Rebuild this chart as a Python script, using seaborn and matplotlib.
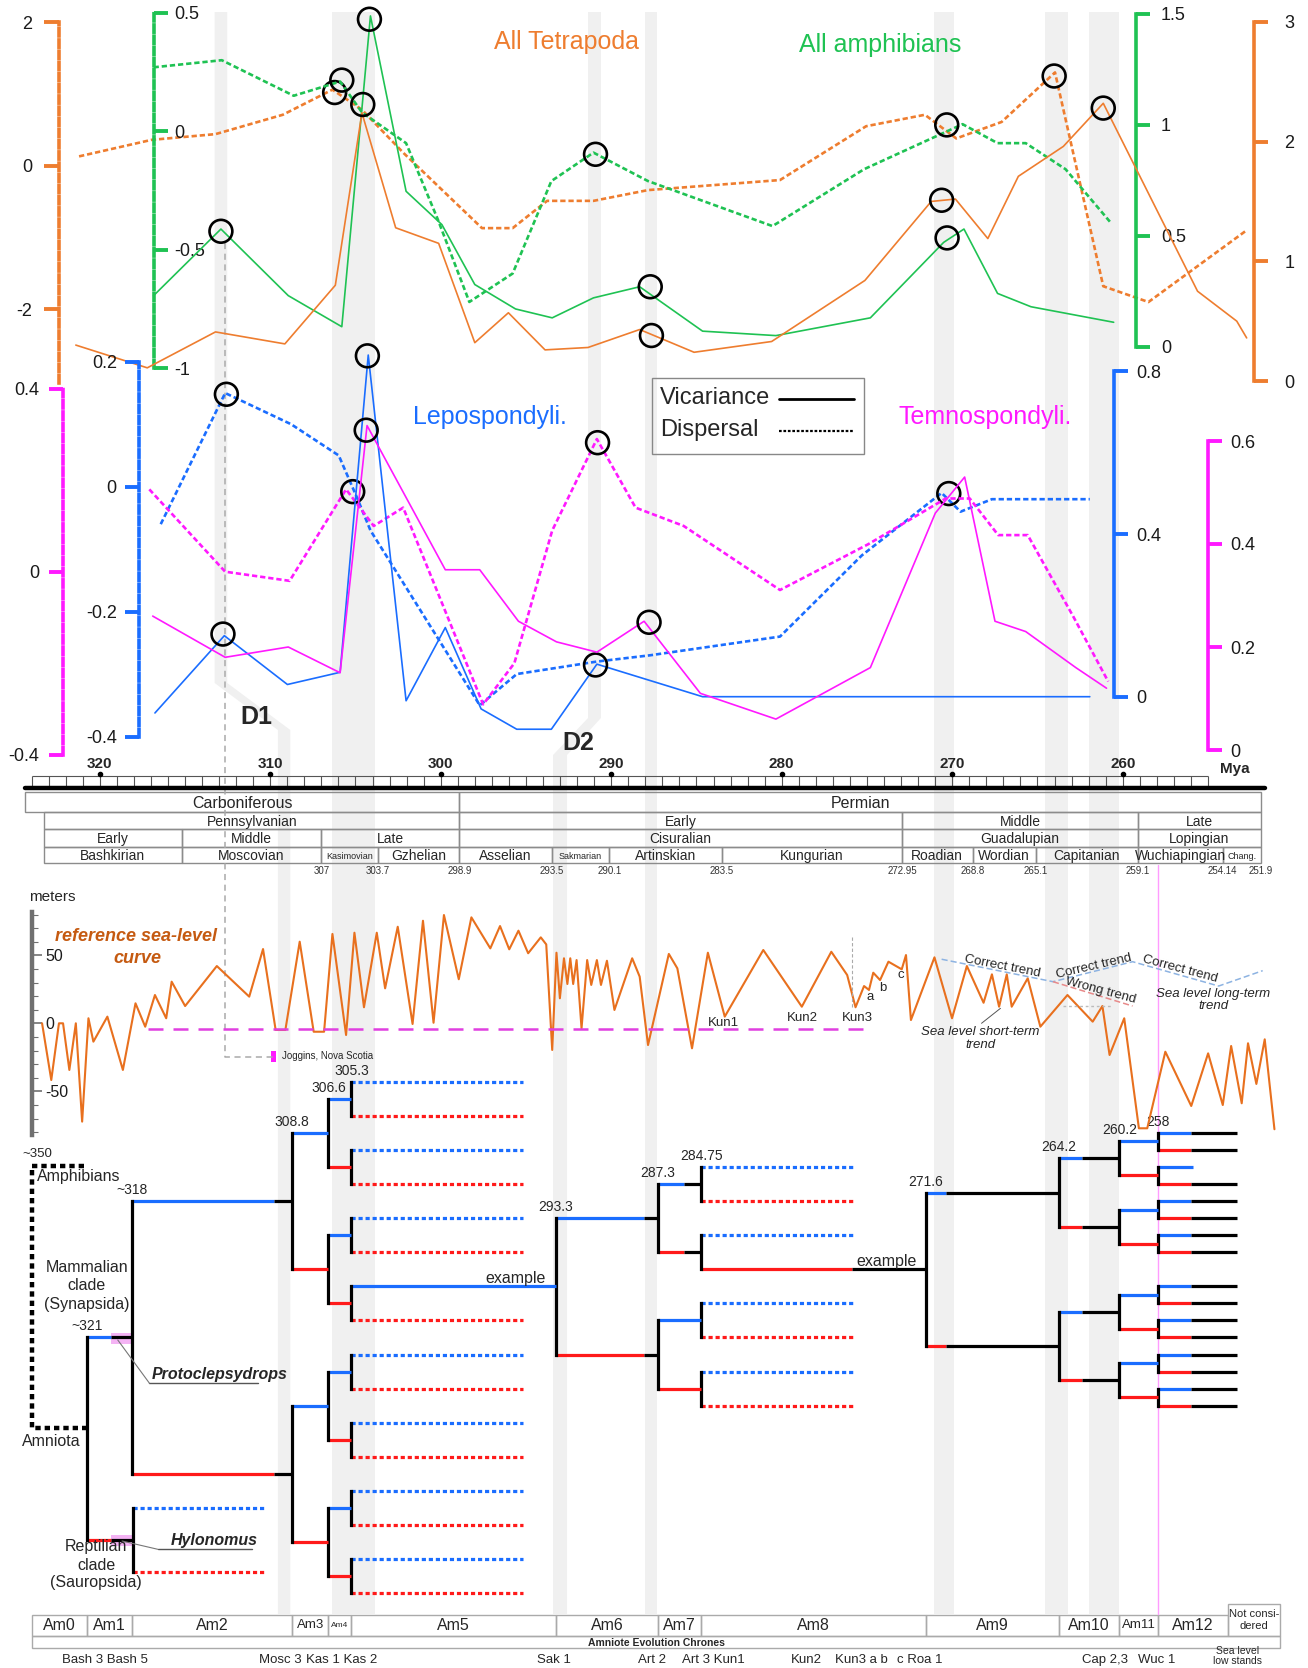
import numpy as np
import pandas as pd
import seaborn as sns
import matplotlib.pyplot as plt
from matplotlib.lines import Line2D
from matplotlib.patches import Polygon, Rectangle

# time axis calibration: pixel column <-> Mya
W, H = 1308, 1668
X0_PX, PX_PER_MY, X0_MY = 99.7, 17.05, 320.0
XL = X0_MY + X0_PX / PX_PER_MY
XR = X0_MY - (W - X0_PX) / PX_PER_MY

# ---------------- data ----------------
# All Tetrapoda (vicariance -> right orange axis, dispersal -> left orange axis)
tet_vic_mya = [321.40, 317.21, 313.21, 309.14, 306.18, 304.62, 302.64, 300.12, 298.0, 296.03, 293.88,
               291.36, 288.33, 285.14, 280.59, 275.12, 271.23, 269.81, 267.91, 266.12, 263.48, 261.14,
               255.61, 253.31, 252.73]
tet_vic = [0.30, 0.11, 0.41, 0.31, 0.80, 2.24, 1.28, 1.15, 0.32, 0.57, 0.26, 0.28, 0.43, 0.24, 0.33,
           0.84, 1.50, 1.52, 1.19, 1.71, 1.96, 2.32, 0.75, 0.50, 0.36]
tet_disp_mya = [321.21, 316.96, 313.21, 309.26, 306.35, 304.62, 302.15, 297.58, 295.78, 293.76, 291.04,
                287.84, 280.10, 275.05, 271.60, 269.76, 267.10, 263.97, 261.14, 258.49, 252.73]
tet_disp = [0.13, 0.36, 0.44, 0.71, 1.06, 0.78, 0.17, -0.87, -0.87, -0.49, -0.49, -0.34, -0.20, 0.55,
            0.71, 0.38, 0.61, 1.30, -1.68, -1.90, -0.90]

# All amphibians
amph_vic_mya = [316.84, 312.89, 308.94, 305.80, 304.12, 302.03, 299.93, 298.0, 295.61, 293.46, 291.04,
                288.33, 284.64, 280.34, 274.80, 270.50, 269.31, 267.34, 265.38, 260.53]
amph_vic = [0.23, 0.53, 0.23, 0.09, 1.49, 0.70, 0.55, 0.28, 0.17, 0.13, 0.22, 0.27, 0.07, 0.05, 0.13,
            0.47, 0.53, 0.24, 0.18, 0.11]
amph_disp_mya = [316.84, 312.84, 308.62, 305.90, 304.62, 302.03, 300.18, 298.32, 295.78, 293.51, 291.04,
                 287.84, 280.54, 275.17, 269.39, 267.34, 265.69, 263.35, 260.65]
amph_disp = [0.27, 0.30, 0.15, 0.21, 0.08, -0.05, -0.37, -0.72, -0.60, -0.21, -0.09, -0.21, -0.40,
             -0.16, 0.03, -0.05, -0.05, -0.16, -0.39]

# Lepospondyli
lep_vic_mya = [316.76, 312.69, 308.99, 305.90, 304.25, 302.03, 299.73, 297.63, 295.54, 293.51, 290.84,
               284.64, 261.93]
lep_vic = [-0.04, 0.15, 0.03, 0.06, 0.84, -0.01, 0.17, -0.03, -0.08, -0.08, 0.08, 0.0, 0.0]
lep_disp_mya = [316.42, 312.64, 308.77, 305.98, 304.87, 304.12, 297.71, 295.54, 290.84, 287.73, 280.10,
                275.30, 270.62, 269.51, 267.67, 261.93]
lep_disp = [-0.06, 0.15, 0.10, 0.05, -0.02, -0.07, -0.35, -0.30, -0.28, -0.27, -0.24, -0.11, -0.01,
            -0.04, -0.02, -0.02]

# Temnospondyli
tem_vic_mya = [316.89, 312.64, 308.94, 305.90, 304.32, 299.73, 297.71, 295.44, 293.21, 290.84, 288.07,
               284.77, 280.34, 274.80, 270.99, 269.27, 267.49, 265.69, 262.75, 260.95]
tem_vic = [0.26, 0.18, 0.20, 0.15, 0.63, 0.35, 0.35, 0.25, 0.21, 0.19, 0.25, 0.11, 0.06, 0.16, 0.46,
           0.53, 0.25, 0.23, 0.16, 0.12]
tem_disp_mya = [317.09, 312.64, 308.86, 305.55, 303.93, 302.20, 297.51, 295.68, 293.46, 290.84, 288.57,
                285.75, 280.10, 274.93, 270.38, 268.97, 267.30, 265.57, 262.87, 260.85]
tem_disp = [0.18, 0.00, -0.02, 0.18, 0.10, 0.14, -0.29, -0.20, 0.09, 0.29, 0.14, 0.10, -0.04, 0.06,
            0.16, 0.16, 0.08, 0.08, -0.10, -0.24]

# highlighted points (Mya, value on that series' axis)
circ_tet_vic = ([304.57, 287.64, 270.62, 261.14], [2.31, 0.38, 1.51, 2.28])
circ_tet_disp = ([306.22, 264.02], [1.02, 1.25])
circ_amph_vic = ([304.18, 312.89, 287.71, 270.30], [1.475, 0.52, 0.27, 0.49])
circ_amph_disp = ([305.8, 290.92, 270.32], [0.216, -0.097, 0.027])
circ_lep_vic = ([304.3, 312.77, 290.92], [0.838, 0.154, 0.078])
circ_lep_disp = ([312.57, 270.2], [0.148, -0.011])
circ_tem_vic = ([304.37, 287.78], [0.621, 0.248])
circ_tem_disp = ([305.16, 290.8], [0.175, 0.282])

# reference sea-level curve (Mya, metres)
sea_mya = [323.38, 322.84, 322.39, 322.15, 321.78, 321.40, 321.03, 320.66, 320.37, 319.55, 318.64, 317.90,
           317.33, 316.76, 316.10, 315.78, 314.99, 313.13, 311.23, 310.42, 309.68, 309.11, 308.27, 307.45,
           306.84, 306.35, 305.55, 305.06, 304.50, 303.75, 303.26, 302.52, 301.65, 301.04, 300.42, 299.81,
           298.94, 298.20, 297.09, 296.52, 295.98, 295.44, 294.87, 294.13, 293.81, 293.46, 293.21, 293.01,
           292.77, 292.57, 292.40, 292.23, 292.03, 291.74, 291.41, 291.17, 290.84, 290.60, 290.25, 289.81,
           288.77, 288.33, 287.84, 286.62, 286.12, 285.26, 284.33, 283.34, 281.08, 278.82, 277.09, 276.16,
           275.67, 275.17, 274.88, 274.63, 274.23, 273.74, 272.96, 272.71, 272.42, 271.04, 270.01, 269.14,
           268.16, 267.67, 267.25, 266.80, 266.51, 265.57, 264.83, 263.24, 261.76, 261.19, 260.77, 259.91,
           259.05, 258.56, 257.50, 255.98, 254.99, 254.13, 253.64, 253.02, 252.65, 252.16, 251.67, 251.10]
sea_m = [0, -41.7, 0, 0, -34.3, 0, -72.3, 3.7, -13.5, 4.9, -34.3, 14.7,
         -2.5, 20.8, 3.7, 30.6, 12.7, 42.1, 19.6, 54.6, -4.9, -4.9, 60.0, -6.2,
         -6.2, 65.7, -8.6, 66.6, 11.8, 66.6, 25.7, 71.0, -0.5, 75.4, 0.4, 79.6,
         32.4, 77.9, 55.1, 71.5, 54.4, 68.1, 51.5, 63.2, 58.0, -19.6, 51.9, 18.4,
         47.8, 28.9, 47.8, 28.9, 46.5, -3.7, 46.5, 28.2, 46.5, 28.2, 46.0, 9.8,
         47.8, 34.3, -16.0, 51.0, 40.4, -18.4, 51.9, 4.9, 53.9, 12.2, 52.6, 35.5,
         11.8, 27.4, 24.5, 37.2, 31.8, 45.3, 39.7, 50.2, 2.4, 48.5, 3.7, 42.1,
         15.1, 36.0, 12.2, 36.0, 12.2, 33.1, -2.5, 20.8, 1.2, 12.7, -23.3, 3.7,
         -77.2, -77.2, -20.9, -60.8, -22.1, -60.1, -16.7, -58.8, -14.7, -44.6, -11.8, -77.9]
joggins_mya = [317.16, 275.17]
joggins_m = [-4.2, -4.2]
trend_mya = [270.62, 264.09, 259.42, 254.37, 251.79]
trend_m = [47.1, 30.6, 45.3, 27.4, 38.7]
wrong_mya = [264.09, 259.42]
wrong_m = [30.6, 12.7]

# geologic time scale
period_names = ['Carboniferous', 'Permian']
period_bounds = [324.37, 298.9, 251.9]
row2_names = ['Pennsylvanian', 'Early', 'Middle', 'Late']
row2_bounds = [323.26, 298.9, 272.95, 259.1, 251.9]
row3_names = ['Early', 'Middle', 'Late', 'Cisuralian', 'Guadalupian', 'Lopingian']
row3_bounds = [323.26, 315.2, 307.0, 298.9, 272.95, 259.1, 251.9]
stage_names = ['Bashkirian', 'Moscovian', 'Kasimovian', 'Gzhelian', 'Asselian', 'Sakmarian', 'Artinskian',
               'Kungurian', 'Roadian', 'Wordian', 'Capitanian', 'Wuchiapingian', 'Chang.']
stage_bounds = [323.26, 315.2, 307.0, 303.7, 298.9, 293.5, 290.1, 283.5, 272.95, 268.8, 265.1, 259.1,
                254.14, 251.9]
boundary_labels = ['307', '303.7', '298.9', '293.5', '290.1', '283.5', '272.95', '268.8', '265.1', '259.1',
                   '254.14', '251.9']
major_ticks = [320, 310, 300, 290, 280, 270, 260]

# amniote evolution chrones
chrone_names = ['Am0', 'Am1', 'Am2', 'Am3', 'Am4', 'Am5', 'Am6', 'Am7', 'Am8', 'Am9', 'Am10', 'Am11', 'Am12']
chrone_bounds = [323.99, 320.74, 318.12, 308.7, 306.59, 305.24, 293.22, 287.28, 284.72, 271.54, 263.73,
                 260.2, 257.94, 253.81]
lowstand_names = ['Bash 3 Bash 5', 'Mosc 3', 'Kas 1 Kas 2', 'Sak 1', 'Art 2', 'Art 3 Kun1', 'Kun2',
                  'Kun3 a b', 'c Roa 1', 'Cap 2,3', 'Wuc 1']
lowstand_mya = [319.67, 309.38, 305.80, 293.38, 287.61, 283.98, 278.55, 275.30, 271.92, 261.02, 257.99]

# grey time bands (straight ones, then the two bent ones D1 / D2)
band_mya = [(306.35, 303.88), (288.0, 287.3), (271.04, 269.88), (264.54, 263.19), (261.95, 260.23)]
d1_upper, d1_lower = (313.26, 312.52), (309.55, 308.82)
d2_upper, d2_lower = (291.36, 290.60), (293.41, 292.59)

ORANGE = '#ee7d2f'
GREEN = '#1fc253'
BLUE = '#1a6dff'
PINK = '#ff19ff'
TBLUE = '#1a6dff'
TRED = '#ff1a1a'
DASH = (0, (2.0, 1.1))

sns.set_theme(style="white")
plt.rcParams['font.family'] = ['Liberation Sans Narrow', 'Liberation Sans', 'DejaVu Sans']
plt.rcParams['axes.unicode_minus'] = False

fig = plt.figure(figsize=(W / 100, H / 100), dpi=100)


def px2mya(x):
    return X0_MY - (x - X0_PX) / PX_PER_MY


def canvas(xlim):
    a = fig.add_axes([0, 0, 1, 1])
    a.set_xlim(*xlim)
    a.set_ylim(H, 0)
    a.axis('off')
    return a


cv = canvas((XL, XR))   # x in Mya, y in pixel rows
pc = canvas((0, W))     # plain pixel layout

# grey bands
for a, b in band_mya:
    cv.add_patch(Polygon([(a, 12), (b, 12), (b, 1614), (a, 1614)], color='#f0f0f0', lw=0, zorder=0))
for up, lo, r0, r1 in [(d1_upper, d1_lower, 683, 730), (d2_upper, d2_lower, 718, 755)]:
    cv.add_patch(Polygon([(up[0], 12), (up[1], 12), (up[1], r0), (lo[1], r1), (lo[1], 1614),
                          (lo[0], 1614), (lo[0], r1), (up[0], r0)], color='#f0f0f0', lw=0, zorder=0))

# ---------------- value axes ----------------
all_axes = []


def value_axes(p0, k):
    a = fig.add_axes([0, 0, 1, 1])
    a.patch.set_visible(False)
    for s in a.spines.values():
        s.set_visible(False)
    a.set_xticks([])
    a.tick_params(left=False, right=False, labelleft=False, labelright=False, bottom=False, labelbottom=False)
    all_axes.append((a, (p0 - H) / k, p0 / k))
    return a


def show_scale(a, side, xpx, ticks, color, ls, tlen=10, pad=5, lo=None):
    sp = a.spines[side]
    sp.set_visible(True)
    sp.set_position(('axes', xpx / W))
    sp.set_bounds(min(ticks) if lo is None else lo, max(ticks))
    sp.set_color(color)
    sp.set_linewidth(2.6)
    sp.set_linestyle(ls)
    a.set_yticks(ticks)
    a.set_yticklabels([f'{t:g}' for t in ticks])
    on = side == 'left'
    a.tick_params(axis='y', left=on, labelleft=on, right=not on, labelright=not on, direction='out',
                  length=tlen, width=2.8, color=color, labelsize=13, pad=pad, labelcolor='#1a1a1a')


def series(a, mya, vals, color, dashed, circles):
    df = pd.DataFrame({'mya': mya, 'val': vals})
    sns.lineplot(data=df, x='mya', y='val', ax=a, color=color, estimator=None, sort=False,
                 lw=1.9 if dashed else 1.2, ls=DASH if dashed else '-')
    a.scatter(circles[0], circles[1], s=270, facecolors='none', edgecolors='black', linewidths=1.9,
              zorder=5, clip_on=False)
    a.set_xlabel('')
    a.set_ylabel('')


ax_tet_d = value_axes(165.7, 71.75)
ax_amph_d = value_axes(131.3, 237.0)
ax_amph_v = value_axes(346.7, 222.0)
ax_tet_v = value_axes(381.0, 119.7)
ax_lep_d = value_axes(486.7, 624.5)
ax_tem_d = value_axes(571.7, 457.5)
ax_lep_v = value_axes(696.7, 406.75)
ax_tem_v = value_axes(750.0, 515.0)
ax_sea = value_axes(1023.3, 1.36)

series(ax_tet_v, tet_vic_mya, tet_vic, ORANGE, False, circ_tet_vic)
series(ax_tet_d, tet_disp_mya, tet_disp, ORANGE, True, circ_tet_disp)
series(ax_amph_v, amph_vic_mya, amph_vic, GREEN, False, circ_amph_vic)
series(ax_amph_d, amph_disp_mya, amph_disp, GREEN, True, circ_amph_disp)
series(ax_lep_v, lep_vic_mya, lep_vic, BLUE, False, circ_lep_vic)
series(ax_lep_d, lep_disp_mya, lep_disp, BLUE, True, circ_lep_disp)
series(ax_tem_v, tem_vic_mya, tem_vic, PINK, False, circ_tem_vic)
series(ax_tem_d, tem_disp_mya, tem_disp, PINK, True, circ_tem_disp)

show_scale(ax_tet_d, 'left', 59, [-2, 0, 2], ORANGE, DASH, tlen=11, pad=8, lo=-3.03)
show_scale(ax_amph_d, 'right', 153.6, [-1, -0.5, 0, 0.5], GREEN, DASH)
show_scale(ax_amph_v, 'right', 1136, [0, 0.5, 1, 1.5], GREEN, '-', pad=8)
show_scale(ax_tet_v, 'right', 1254, [0, 1, 2, 3], ORANGE, '-', pad=12)
show_scale(ax_lep_d, 'left', 139, [-0.4, -0.2, 0, 0.2], BLUE, DASH, pad=6)
show_scale(ax_tem_d, 'left', 63, [-0.4, 0, 0.4], PINK, DASH, pad=7)
show_scale(ax_lep_v, 'right', 1113.7, [0, 0.4, 0.8], BLUE, '-', pad=6)
show_scale(ax_tem_v, 'right', 1208, [0, 0.2, 0.4, 0.6], PINK, '-', pad=6)

# sea-level curve
sea_df = pd.DataFrame({'mya': sea_mya, 'm': sea_m})
sns.lineplot(data=sea_df, x='mya', y='m', ax=ax_sea, color='#e8701e', lw=1.5, estimator=None, sort=False,
             solid_joinstyle='round')
ax_sea.set_xlabel('')
ax_sea.set_ylabel('')
ax_sea.plot(joggins_mya, joggins_m, color='#e03fe0', lw=1.8, ls=(0, (6, 4)))
ax_sea.plot(trend_mya, trend_m, color='#8db3e2', lw=1.1, ls=(0, (4, 2)))
ax_sea.plot(wrong_mya, wrong_m, color='#e88a8a', lw=1.1, ls=(0, (4, 2)))
ax_sea.plot([263.49, 260.65], [12.7, 12.7], color='#bbbbbb', lw=1.0, ls=(0, (2, 2)))
ax_sea.plot([275.86, 275.86], [63.5, 12.2], color='#aaaaaa', lw=0.8, ls=(0, (3, 2)))
sp = ax_sea.spines['right']
sp.set_visible(True)
sp.set_position(('axes', 31.6 / W))
sp.set_bounds(-82, 82)
sp.set_color('#707070')
sp.set_linewidth(3.2)
ax_sea.set_yticks([-50, 0, 50])
ax_sea.set_yticklabels(['-50', '0', '50'])
ax_sea.set_yticks(np.arange(-80, 81, 10), minor=True)
ax_sea.tick_params(axis='y', which='both', right=True, labelright=True, direction='out', color='#707070',
                   labelsize=11.5, pad=3, labelcolor='#1a1a1a')
ax_sea.tick_params(axis='y', which='major', length=7, width=1.2)
ax_sea.tick_params(axis='y', which='minor', length=4, width=0.8)
for lbl, mya, m in [('Kun1', 283.42, 0.4), ('Kun2', 278.81, 3.7), ('Kun3', 275.54, 3.7)]:
    ax_sea.text(mya, m, lbl, ha='center', va='center', fontsize=9.5)
for lbl, mya, m in [('a', 274.80, 19.1), ('b', 274.07, 25.7), ('c', 273.0, 35.5)]:
    ax_sea.text(mya, m, lbl, ha='center', va='center', fontsize=9.5)
for mya, m, rot in [(267.05, 42.1, -11), (261.68, 42.1, 13), (256.66, 39.7, -15)]:
    ax_sea.text(mya, m, 'Correct trend', ha='center', va='center', fontsize=9.5, rotation=rot,
                rotation_mode='anchor')
ax_sea.text(261.27, 23.8, 'Wrong trend', ha='center', va='center', fontsize=9.5, rotation=-15,
            rotation_mode='anchor')
ax_sea.text(254.70, 17.1, 'Sea level long-term\ntrend', ha='center', va='center', fontsize=9.5,
            style='italic', linespacing=1.1)
ax_sea.text(268.35, -10.9, 'Sea level short-term\ntrend', ha='center', va='center', fontsize=9.5,
            style='italic', linespacing=1.1)
ax_sea.plot([267.17, 268.28], [11.0, 0.0], color='#555555', lw=0.7)

for a, lo, hi in all_axes:
    a.set_xlim(XL, XR)
    a.set_ylim(lo, hi)

# titles
pc.text(567, 42, 'All Tetrapoda', color=ORANGE, fontsize=18, ha='center', va='center')
pc.text(880, 45, 'All amphibians', color=GREEN, fontsize=18, ha='center', va='center')
pc.text(490, 417, 'Lepospondyli.', color=BLUE, fontsize=18, ha='center', va='center')
pc.text(985, 417, 'Temnospondyli.', color=PINK, fontsize=18, ha='center', va='center')
pc.text(256, 717, 'D1', fontsize=18, fontweight='bold', ha='center', va='center')
pc.text(578, 743, 'D2', fontsize=18, fontweight='bold', ha='center', va='center')

# key box: label first, line sample after it
pc.add_patch(Rectangle((652, 378), 212, 76, fill=False, ec='#888888', lw=1.0))
pc.text(660, 398, 'Vicariance', fontsize=17, ha='left', va='center')
pc.text(660, 430, 'Dispersal', fontsize=17, ha='left', va='center')
pc.plot([779, 854], [399, 399], color='black', lw=2.0)
pc.plot([779, 854], [431, 431], color='black', lw=1.6, ls=(0, (1.2, 0.8)))

# D1 dashed guide to Joggins
cv.plot([312.63, 312.63, 309.8], [243, 1056.7, 1056.7], color='#aaaaaa', lw=1.1, ls=(0, (4, 3)))
cv.add_patch(Rectangle((309.68, 1050.7), 0.3, 11, color='#ff19ff', lw=0))
cv.text(309.30, 1056, 'Joggins, Nova Scotia', fontsize=7, ha='left', va='center')
cv.plot([257.94, 257.94], [865, 1614], color='#ff9cff', lw=1.0)

# time scale
for m in major_ticks:
    cv.text(m, 764, str(m), ha='center', va='center', fontsize=11, fontweight='bold')
cv.scatter(major_ticks, [774] * len(major_ticks), s=9, c='black', zorder=3)
cv.vlines(np.arange(255, 325), 776, 786, color='#555555', lw=0.8)
cv.hlines(776, 324, 255, color='#555555', lw=0.8)
cv.plot([px2mya(25.3), px2mya(1264.8)], [787.5, 787.5], color='black', lw=3.2, solid_capstyle='round')
pc.text(1235, 769, 'Mya', fontsize=11, fontweight='bold', ha='center', va='center')


def cell_row(names, bounds, r0, r1, fs, small=(), fs_small=6.5):
    for i, nm in enumerate(names):
        a, b = bounds[i], bounds[i + 1]
        cv.add_patch(Rectangle((b, r0), a - b, r1 - r0, fill=False, ec='#8c8c8c', lw=1.0))
        cv.text((a + b) / 2, (r0 + r1) / 2 + 1, nm, ha='center', va='center',
                fontsize=fs_small if nm in small else fs)


cell_row(period_names, period_bounds, 792.3, 812.3, 11.5)
cell_row(row2_names, row2_bounds, 812.3, 829.3, 10)
cell_row(row3_names, row3_bounds, 829.3, 846.7, 10)
cell_row(stage_names, stage_bounds, 846.7, 863.3, 10, small=('Kasimovian', 'Sakmarian', 'Chang.'))
for m, lbl in zip(stage_bounds[2:], boundary_labels):
    cv.text(m, 871, lbl, ha='center', va='center', fontsize=7, color='#333333')

# sea-level labels
pc.text(29.5, 897, 'meters', fontsize=11, ha='left', va='center')
pc.text(136, 936.5, 'reference sea-level', fontsize=13, fontweight='bold', style='italic',
        color='#c55a11', ha='center', va='center')
pc.text(137, 958.5, 'curve', fontsize=13, fontweight='bold', style='italic',
        color='#c55a11', ha='center', va='center')

# ---------------- phylogeny ----------------
TREE_Y0, SLOT = 1081.7, 17.05


def leaf(slot, end, black=None, dotted=True):
    return dict(slot=slot, end=end, black=black, dotted=dotted)


def clade(age, kids, label=None, cend=None):
    return dict(age=age, kids=kids, label=label, cend=cend)


def n258(s, label=None, short=False):
    return clade(257.94, [leaf(s, 255.86 if short else 255.98, None if short else 253.27, dotted=False),
                          leaf(s + 1, 255.98, 253.27, dotted=False)], label)


def n305(s, label=None):
    return clade(305.24, [leaf(s, 295.17), leaf(s + 2, 295.17)], label)


n264a = clade(263.73, [clade(260.2, [n258(3, '258'), n258(5, short=True)], '260.2', cend=262.38),
                       clade(260.2, [n258(7), n258(9)], cend=262.38)], '264.2', cend=270.38)
n264b = clade(263.73, [clade(260.2, [n258(12), n258(14)], cend=262.38),
                       clade(260.2, [n258(16), n258(18)], cend=262.38)], cend=270.38)
n271 = clade(271.54, [n264a, n264b], '271.6', cend=275.86)
n287a = clade(287.28, [clade(284.72, [leaf(5, 275.8), leaf(7, 275.8)], '284.75', cend=285.71),
                       clade(284.72, [leaf(9, 275.8), n271], cend=285.71)], '287.3', cend=288.07)
n287b = clade(287.28, [clade(284.72, [leaf(13, 275.8), leaf(15, 275.8)]),
                       clade(284.72, [leaf(17, 275.8), leaf(19, 275.8)])], cend=288.07)
n293 = clade(293.26, [n287a, n287b], '293.3')
n308a = clade(308.74, [clade(306.59, [n305(0, '305.3'), n305(4)], '306.6'),
                       clade(306.59, [n305(8), clade(305.24, [n293, leaf(14, 295.17)])])], '308.8', cend=309.75)
n308b = clade(308.74, [clade(306.59, [n305(16), n305(20)]), clade(306.59, [n305(24), n305(28)])], cend=309.75)
n318 = clade(318.12, [n308a, n308b], '~318', cend=319.35)
hylonomus = clade(318.07, [leaf(25.0, 310.25), leaf(28.75, 310.25)], cend=319.31)
amniota = clade(320.74, [n318, hylonomus], '~321')

TLW = 2.3


def draw_clade(nd):
    if 'slot' in nd:
        return TREE_Y0 + nd['slot'] * SLOT
    ys = [draw_clade(k) for k in nd['kids']]
    x = nd['age']
    for i, (k, yk) in enumerate(zip(nd['kids'], ys)):
        col = TBLUE if i == 0 else TRED
        if 'slot' in k:
            cv.plot([x, k['end']], [yk, yk], color=col, lw=TLW, ls=(0, (1.3, 0.9)) if k['dotted'] else '-',
                    solid_capstyle='butt')
            if k['black']:
                cv.plot([k['end'], k['black']], [yk, yk], color='black', lw=TLW, solid_capstyle='butt')
        else:
            ce = k['cend'] if k['cend'] else k['age']
            cv.plot([x, ce], [yk, yk], color=col, lw=TLW, solid_capstyle='butt')
            if ce != k['age']:
                cv.plot([ce, k['age']], [yk, yk], color='black', lw=TLW, solid_capstyle='butt')
    cv.plot([x, x], [min(ys), max(ys)], color='black', lw=TLW, solid_capstyle='projecting')
    if nd['label']:
        cv.text(x, ys[0] - 4, nd['label'], ha='center', va='bottom', fontsize=10)
    return float(np.mean(ys))


draw_clade(amniota)

# highlights and taxon names
for r in (1338.5, 1540.0):
    cv.add_patch(Rectangle((318.12, r - 5.5), 1.23, 11, color='#f3a6f3', alpha=0.85, lw=0, zorder=0.5))
cv.text(316.96, 1382, 'Protoclepsydrops', fontsize=11.5, fontweight='bold', style='italic', ha='left',
        va='bottom')
cv.plot([317.08, 310.74], [1383.3, 1383.3], color='#555555', lw=1)
cv.plot([318.94, 317.08], [1340, 1383.3], color='#777777', lw=0.8)
cv.text(315.85, 1548, 'Hylonomus', fontsize=11.5, fontweight='bold', style='italic', ha='left', va='bottom')
cv.plot([316.59, 311.04], [1549.3, 1549.3], color='#555555', lw=1)
cv.plot([318.69, 316.59], [1541, 1549.3], color='#777777', lw=0.8)

# amphibian bracket
cv.plot([320.92, 323.99, 323.99, 320.72], [1165.7, 1165.7, 1428.3, 1428.3], color='black', lw=3.2,
        ls=(0, (1.2, 0.9)))
pc.text(37, 1154, '~350', fontsize=9.5, ha='center', va='center')
pc.text(37, 1176, 'Amphibians', fontsize=11.5, ha='left', va='center')
pc.text(87, 1286, 'Mammalian\nclade\n(Synapsida)', fontsize=11.5, ha='center', va='center', linespacing=1.25)
pc.text(51, 1442, 'Amniota', fontsize=11.5, ha='center', va='center')
pc.text(96, 1565, 'Reptilian\nclade\n(Sauropsida)', fontsize=11.5, ha='center', va='center', linespacing=1.25)
pc.text(515.6, 1278.3, 'example', fontsize=11.5, ha='center', va='center')
pc.text(887, 1261.7, 'example', fontsize=11.5, ha='center', va='center')

# amniote chrones table
for i, nm in enumerate(chrone_names):
    a, b = chrone_bounds[i], chrone_bounds[i + 1]
    cv.add_patch(Rectangle((b, 1615), a - b, 21, fill=False, ec='#aaaaaa', lw=1.0))
    fs = 6 if nm == 'Am4' else (9.5 if nm in ('Am3', 'Am11') else 11.5)
    cv.text((a + b) / 2, 1625.5, nm, ha='center', va='center', fontsize=fs)
cv.add_patch(Rectangle((250.80, 1604), 253.81 - 250.80, 32, fill=False, ec='#aaaaaa', lw=1.0))
cv.text((250.80 + 253.81) / 2, 1620, 'Not consi-\ndered', ha='center', va='center', fontsize=8,
        linespacing=1.2)
cv.add_patch(Rectangle((250.80, 1636), 323.99 - 250.80, 12.3, fill=False, ec='#aaaaaa', lw=1.0))
pc.text(656, 1642.5, 'Amniote Evolution Chrones', fontsize=7.5, fontweight='bold', ha='center', va='center')
for nm, m in zip(lowstand_names, lowstand_mya):
    cv.text(m, 1660, nm, ha='center', va='center', fontsize=9.5)
cv.text(253.27, 1666, 'Sea level\nlow stands', ha='center', va='bottom', fontsize=7.5, linespacing=1.0)

fig.savefig('out.png', dpi=100)
